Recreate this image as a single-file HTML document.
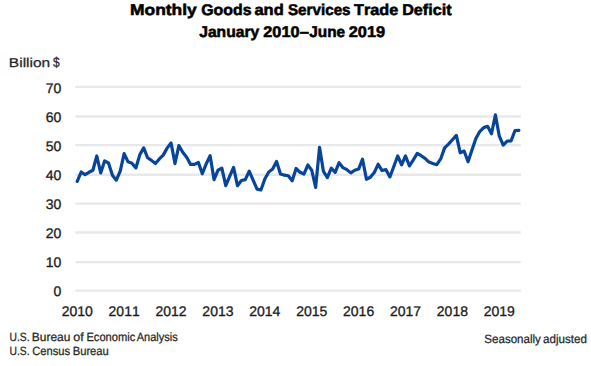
<!DOCTYPE html>
<html><head><meta charset="utf-8"><style>
html,body{margin:0;padding:0;background:#fff;}
svg{display:block;}
text{font-family:"Liberation Sans", sans-serif;font-kerning:none;text-rendering:geometricPrecision;}
.ax{font-size:14px;fill:#1a1a1a;stroke:#1a1a1a;stroke-width:0.3px;}
.s{font-size:12px;fill:#262626;stroke:#262626;stroke-width:0.25px;}
.b{font-size:12.8px;fill:#262626;stroke:#262626;stroke-width:0.25px;}
.b2{font-size:14px;fill:#262626;stroke:#262626;stroke-width:0.25px;}
.t{font-size:15.5px;font-weight:bold;fill:#000;stroke:#000;stroke-width:0.55px;}
</style></head><body>
<svg width="591" height="366" viewBox="0 0 591 366">
<rect width="591" height="366" fill="#fff"/>
<text class="t" x="130.09" y="15.00" textLength="66.66" lengthAdjust="spacingAndGlyphs">Monthly</text>
<text class="t" x="201.30" y="15.00" textLength="50.20" lengthAdjust="spacingAndGlyphs">Goods</text>
<text class="t" x="254.47" y="15.00" textLength="29.27" lengthAdjust="spacingAndGlyphs">and</text>
<text class="t" x="287.91" y="15.00" textLength="62.66" lengthAdjust="spacingAndGlyphs">Services</text>
<text class="t" x="354.07" y="15.00" textLength="44.14" lengthAdjust="spacingAndGlyphs">Trade</text>
<text class="t" x="402.17" y="15.00" textLength="49.38" lengthAdjust="spacingAndGlyphs">Deficit</text>
<text class="t" x="199.21" y="37.10" textLength="60.02" lengthAdjust="spacingAndGlyphs">January</text>
<text class="t" x="263.29" y="37.10" textLength="36.23" lengthAdjust="spacingAndGlyphs">2010</text>
<text class="t" x="299.85" y="37.10" textLength="9.21" lengthAdjust="spacingAndGlyphs">–</text>
<text class="t" x="309.32" y="37.10" textLength="35.86" lengthAdjust="spacingAndGlyphs">June</text>
<text class="t" x="348.78" y="37.10" textLength="36.37" lengthAdjust="spacingAndGlyphs">2019</text>
<text class="b" x="8.88" y="66.80" textLength="41.38" lengthAdjust="spacingAndGlyphs">Billion</text>
<text class="b2" x="53.12" y="66.90" textLength="6.72" lengthAdjust="spacingAndGlyphs">$</text>
<text class="s" x="9.50" y="340.60" textLength="20.09" lengthAdjust="spacingAndGlyphs">U.S.</text>
<text class="s" x="31.87" y="340.60" textLength="38.47" lengthAdjust="spacingAndGlyphs">Bureau</text>
<text class="s" x="73.33" y="340.60" textLength="10.41" lengthAdjust="spacingAndGlyphs">of</text>
<text class="s" x="86.44" y="340.60" textLength="48.80" lengthAdjust="spacingAndGlyphs">Economic</text>
<text class="s" x="136.73" y="340.60" textLength="41.12" lengthAdjust="spacingAndGlyphs">Analysis</text>
<text class="s" x="9.50" y="355.00" textLength="20.09" lengthAdjust="spacingAndGlyphs">U.S.</text>
<text class="s" x="32.28" y="355.00" textLength="37.87" lengthAdjust="spacingAndGlyphs">Census</text>
<text class="s" x="72.73" y="355.00" textLength="36.06" lengthAdjust="spacingAndGlyphs">Bureau</text>
<text class="s" x="484.33" y="342.60" textLength="56.55" lengthAdjust="spacingAndGlyphs">Seasonally</text>
<text class="s" x="543.06" y="342.60" textLength="43.84" lengthAdjust="spacingAndGlyphs">adjusted</text>
<line x1="75.3" x2="520.8" y1="86.90" y2="86.90" stroke="#e7e8e9" stroke-width="2.4"/>
<line x1="75.3" x2="520.8" y1="116.45" y2="116.45" stroke="#e7e8e9" stroke-width="2.4"/>
<line x1="75.3" x2="520.8" y1="145.10" y2="145.10" stroke="#e7e8e9" stroke-width="2.4"/>
<line x1="75.3" x2="520.8" y1="174.70" y2="174.70" stroke="#e7e8e9" stroke-width="2.4"/>
<line x1="75.3" x2="520.8" y1="203.60" y2="203.60" stroke="#e7e8e9" stroke-width="2.4"/>
<line x1="75.3" x2="520.8" y1="232.45" y2="232.45" stroke="#e7e8e9" stroke-width="2.4"/>
<line x1="75.3" x2="520.8" y1="262.10" y2="262.10" stroke="#e7e8e9" stroke-width="2.4"/>
<line x1="75.3" x2="520.8" y1="290.60" y2="290.60" stroke="#e7e8e9" stroke-width="2.4"/>
<text x="61.3" y="92.96" text-anchor="end" class="ax">70</text>
<text x="61.3" y="122.03" text-anchor="end" class="ax">60</text>
<text x="61.3" y="151.10" text-anchor="end" class="ax">50</text>
<text x="61.3" y="180.17" text-anchor="end" class="ax">40</text>
<text x="61.3" y="209.24" text-anchor="end" class="ax">30</text>
<text x="61.3" y="238.31" text-anchor="end" class="ax">20</text>
<text x="61.3" y="267.38" text-anchor="end" class="ax">10</text>
<text x="61.3" y="296.45" text-anchor="end" class="ax">0</text>
<text x="77.25" y="316" text-anchor="middle" class="ax">2010</text>
<text x="124.15" y="316" text-anchor="middle" class="ax">2011</text>
<text x="171.04" y="316" text-anchor="middle" class="ax">2012</text>
<text x="217.94" y="316" text-anchor="middle" class="ax">2013</text>
<text x="264.83" y="316" text-anchor="middle" class="ax">2014</text>
<text x="311.73" y="316" text-anchor="middle" class="ax">2015</text>
<text x="358.63" y="316" text-anchor="middle" class="ax">2016</text>
<text x="405.52" y="316" text-anchor="middle" class="ax">2017</text>
<text x="452.42" y="316" text-anchor="middle" class="ax">2018</text>
<text x="499.31" y="316" text-anchor="middle" class="ax">2019</text>
<polyline points="77.25,181.46 81.16,172.00 85.07,174.62 88.97,172.29 92.88,170.26 96.79,156.00 100.70,172.88 104.61,160.95 108.51,162.99 112.42,175.20 116.33,180.15 120.24,171.13 124.15,153.68 128.05,161.82 131.96,163.28 135.87,167.93 139.78,154.84 143.69,147.86 147.59,157.75 151.50,160.37 155.41,163.57 159.32,158.91 163.23,155.13 167.13,148.15 171.04,142.91 174.95,163.57 178.86,145.68 182.77,152.22 186.67,157.17 190.58,164.44 194.49,164.44 198.40,162.40 202.31,173.75 206.21,163.86 210.12,155.71 214.03,179.57 217.94,170.26 221.85,168.22 225.75,185.68 229.66,176.37 233.57,167.35 237.48,185.68 241.39,180.44 245.29,179.57 249.20,171.13 253.11,180.15 257.02,189.17 260.93,190.04 264.83,178.99 268.74,172.00 272.65,169.09 276.56,161.53 280.47,174.04 284.37,175.20 288.28,175.79 292.19,180.73 296.10,168.51 300.01,172.29 303.91,174.04 307.82,165.02 311.73,170.26 315.64,187.42 319.55,147.28 323.45,171.42 327.36,177.53 331.27,168.22 335.18,172.29 339.09,162.69 342.99,167.64 346.90,169.68 350.81,172.88 354.72,170.26 358.63,169.09 362.53,159.20 366.44,179.28 370.35,177.24 374.26,172.59 378.17,164.29 382.07,170.55 385.98,169.68 389.89,176.95 393.80,166.48 397.71,156.00 401.61,164.73 405.52,156.00 409.43,165.89 413.34,159.79 417.25,153.39 421.15,155.71 425.06,158.33 428.97,162.11 432.88,163.57 436.79,164.73 440.69,158.91 444.60,147.86 448.51,144.08 452.42,139.71 456.33,135.35 460.23,152.80 464.14,151.06 468.05,161.82 471.96,149.90 475.87,138.55 479.77,131.57 483.68,127.64 487.59,126.33 491.50,133.75 495.41,114.84 499.31,136.22 503.22,145.10 507.13,141.17 511.04,140.88 514.95,130.70 518.85,130.41" fill="none" stroke="#06459a" stroke-width="3.2" stroke-linejoin="round" stroke-linecap="round"/>
</svg>
</body></html>
